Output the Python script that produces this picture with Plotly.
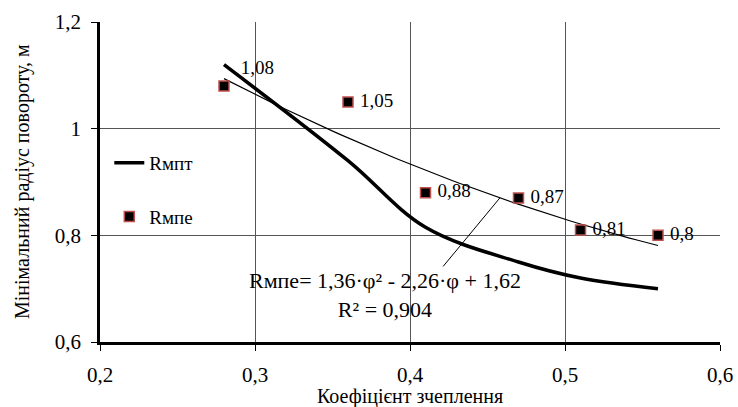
import numpy as np
import plotly.graph_objects as go

# Data
phi_points = [0.28, 0.36, 0.41, 0.47, 0.51, 0.56]
r_mpe = [1.08, 1.05, 0.88, 0.87, 0.81, 0.80]
r_mpt = [1.12, 0.94, 0.815, 0.75, 0.72, 0.70]
trend_coeffs = [1.36, -2.26, 1.62]
trend_label = "Rмпе= 1,36·φ² - 2,26·φ + 1,62<br>R² = 0,904"
x_title = "Коефіцієнт зчеплення"
y_title = "Мінімальний радіус повороту, м"

FONT = "Liberation Serif, Times New Roman, serif"
NB = "\u00a0"

labels = [str(v).replace(".", ",") for v in r_mpe]
labels = [NB * 2 + labels[0]] + [NB + t for t in labels[1:]]
positions = ["top right"] + ["middle right"] * (len(r_mpe) - 1)

trend_x = np.linspace(phi_points[0], phi_points[-1], 60)
trend_y = np.polyval(trend_coeffs, trend_x)

fig = go.Figure()
fig.add_trace(go.Scatter(
    x=phi_points, y=r_mpt, mode="lines", name="Rмпт",
    line=dict(color="black", width=3.5, shape="spline", smoothing=1.0),
    legendgroup="a"))
fig.add_trace(go.Scatter(
    x=trend_x, y=trend_y, mode="lines", showlegend=False,
    line=dict(color="black", width=1.2), hoverinfo="skip"))
fig.add_trace(go.Scatter(
    x=phi_points, y=r_mpe, mode="markers+text", name="Rмпе",
    marker=dict(symbol="square", size=10, color="black",
                line=dict(color="#c0504d", width=1.5)),
    text=labels, textposition=positions,
    textfont=dict(family=FONT, size=19, color="black"),
    legendgroup="b"))

x_head = 0.458
fig.add_annotation(x=x_head, y=float(np.polyval(trend_coeffs, x_head)),
                   xref="x", yref="y", text="", showarrow=True,
                   arrowhead=0, arrowwidth=1, arrowcolor="black",
                   ax=-58, ay=70, standoff=0, startstandoff=0)
fig.add_annotation(x=0.384, y=0.688, xref="x", yref="y", text=trend_label,
                   showarrow=False, font=dict(family=FONT, size=22, color="black"))

# axis titles as paper annotations for precise placement
fig.add_annotation(x=0.5, y=0, xref="paper", yref="paper", text=x_title,
                   showarrow=False, xanchor="center", yanchor="middle", yshift=-54,
                   font=dict(family=FONT, size=20, color="black"))
fig.add_annotation(x=0, y=0.5, xref="paper", yref="paper", text=y_title,
                   showarrow=False, xanchor="center", yanchor="middle", xshift=-78,
                   textangle=-90, font=dict(family=FONT, size=20, color="black"))

axis_common = dict(
    showgrid=True, gridcolor="#555555", gridwidth=1,
    showline=True, linecolor="black", linewidth=2.5,
    ticks="outside", ticklen=6, tickcolor="black", tickwidth=1,
    tickfont=dict(family=FONT, size=21, color="black"),
    zeroline=False, automargin=False,
)
fig.update_xaxes(range=[0.2, 0.6], dtick=0.1, tick0=0.2,
                 ticklabelstandoff=6, **axis_common)
fig.update_yaxes(range=[0.6, 1.2], dtick=0.2, tick0=0.6,
                 ticklabelstandoff=6, **axis_common)

fig.update_layout(
    width=738, height=407,
    margin=dict(l=100, r=18, t=22, b=65),
    paper_bgcolor="white", plot_bgcolor="white",
    separators=", ",
    font=dict(family=FONT, color="black"),
    legend=dict(x=0.015, y=0.475, xanchor="left", yanchor="middle",
                bgcolor="rgba(0,0,0,0)", traceorder="grouped",
                tracegroupgap=26, font=dict(family=FONT, size=19, color="black")),
)

fig.write_html(
    "out.html",
    config={"displayModeBar": False},
    post_script="document.body.style.margin='0';document.body.style.overflow='hidden';",
)
